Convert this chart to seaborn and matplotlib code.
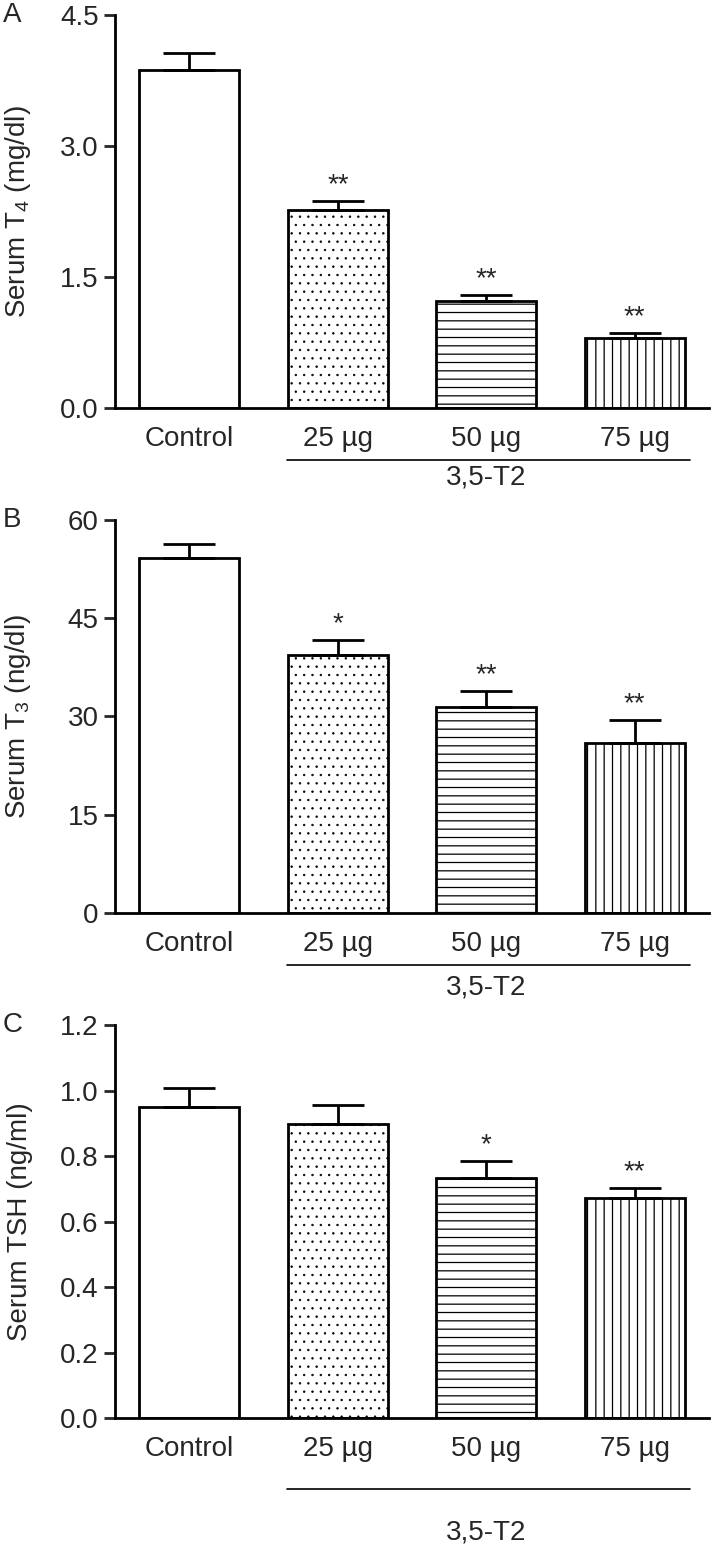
import numpy as np
import pandas as pd
import matplotlib
matplotlib.use("Agg")
import matplotlib.pyplot as plt
import matplotlib.transforms as mtransforms
import seaborn as sns

# Dades llegides de la figura
groups = ["Control", "25 µg", "50 µg", "75 µg"]

t4_mean = [3.87, 2.27, 1.22, 0.80]
t4_sem = [0.19, 0.10, 0.07, 0.06]
t4_stars = ["", "**", "**", "**"]

t3_mean = [54.2, 39.4, 31.4, 26.0]
t3_sem = [2.1, 2.3, 2.5, 3.4]
t3_stars = ["", "*", "**", "**"]

tsh_mean = [0.95, 0.898, 0.733, 0.672]
tsh_sem = [0.058, 0.058, 0.052, 0.030]
tsh_stars = ["", "", "*", "**"]

hatches = ["", "..", "--", "||"]

sns.set_style("ticks")
plt.rcParams["font.family"] = ["Liberation Sans", "DejaVu Sans"]
plt.rcParams["mathtext.fontset"] = "custom"
plt.rcParams["mathtext.rm"] = "Liberation Sans"
plt.rcParams["mathtext.default"] = "regular"
plt.rcParams["hatch.linewidth"] = 0.9
plt.rcParams["hatch.color"] = "black"

FS = 20
LW = 2.0

fig = plt.figure(figsize=(7.11, 15.5), dpi=100)

panels = [
    ("A", t4_mean, t4_sem, t4_stars, "Serum T$_4$ (mg/dl)", 4.5, [0, 1.5, 3.0, 4.5], "{:.1f}",
     [0.162, 0.7368, 0.835, 0.2535], 52, 70),
    ("B", t3_mean, t3_sem, t3_stars, "Serum T$_3$ (ng/dl)", 60, [0, 15, 30, 45, 60], "{:.0f}",
     [0.162, 0.4110, 0.835, 0.2535], 52, 75),
    ("C", tsh_mean, tsh_sem, tsh_stars, "Serum TSH (ng/ml)", 1.2, [0, 0.2, 0.4, 0.6, 0.8, 1.0, 1.2], "{:.1f}",
     [0.162, 0.0852, 0.835, 0.2532], 71, 115),
]

for letter, mean, sem, stars, ylabel, ymax, yticks, fmt, rect, line_off, lab_off in panels:
    ax = fig.add_axes(rect)
    df = pd.DataFrame({"group": groups, "value": mean})
    sns.barplot(data=df, x="group", y="value", ax=ax, color="white", saturation=1,
                edgecolor="black", linewidth=LW, width=0.675, errorbar=None)
    for patch, h in zip(ax.patches, hatches):
        patch.set_hatch(h)
        patch.set_facecolor("white")
        patch.set_edgecolor("black")
        # punts mes fins que les linies
        if h == ".." and hasattr(patch, "set_hatch_linewidth"):
            patch.set_hatch_linewidth(0.5)

    # Barres d'error nomes cap amunt
    ax.errorbar(np.arange(len(groups)), mean, yerr=[np.zeros(len(groups)), sem],
                fmt="none", ecolor="black", elinewidth=LW, capsize=19, capthick=LW, zorder=3)

    # Asteriscs de significacio
    for i, s in enumerate(stars):
        if s:
            ax.annotate(s, (i, mean[i] + sem[i]), xytext=(0, 2), textcoords="offset points",
                        ha="center", va="bottom", fontsize=FS)

    ax.set_xlim(-0.5, 3.5)
    ax.set_ylim(0, ymax)
    ax.set_yticks(yticks)
    ax.set_yticklabels([fmt.format(v) for v in yticks])
    ax.set_xlabel("")
    ax.set_ylabel(ylabel, fontsize=FS)
    ax.yaxis.set_label_coords(-0.138, 0.5)
    ax.tick_params(axis="y", length=8, width=LW, labelsize=FS, pad=4)
    ax.tick_params(axis="x", length=0, labelsize=FS, pad=13)
    sns.despine(ax=ax)
    for sp in ["left", "bottom"]:
        ax.spines[sp].set_linewidth(LW)
        ax.spines[sp].set_color("black")

    # Linia de grup 3,5-T2
    trans = mtransforms.blended_transform_factory(ax.transData, ax.transAxes)
    off = mtransforms.ScaledTranslation(0, -line_off / 100, fig.dpi_scale_trans)
    ax.plot([0.655, 3.37], [0, 0], color="black", lw=1.2, transform=trans + off, clip_on=False)
    off2 = mtransforms.ScaledTranslation(0, -lab_off / 100, fig.dpi_scale_trans)
    ax.text(2.0, 0, "3,5-T2", ha="center", va="center", fontsize=FS, transform=trans + off2)

    # Lletra del panell
    fig.text(0.004, rect[1] + rect[3], letter, ha="left", va="center", fontsize=FS)

fig.savefig("out.png", dpi=100)
